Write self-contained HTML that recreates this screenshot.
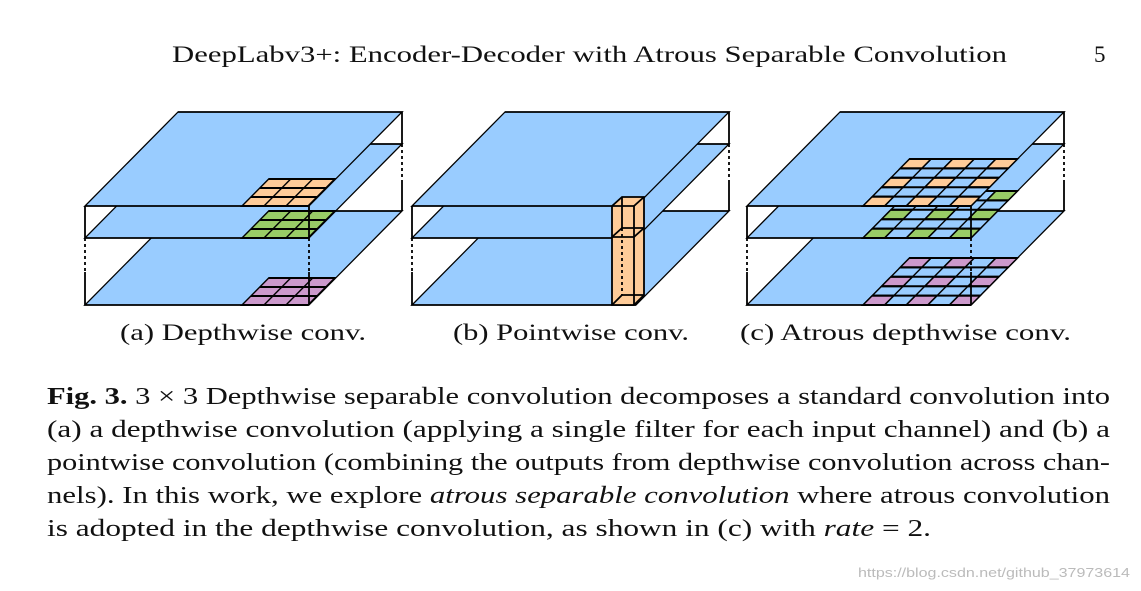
<!DOCTYPE html>
<html><head><meta charset="utf-8"><style>
html,body{margin:0;padding:0;background:#fff;}
svg{display:block;}
text{font-family:"Liberation Serif",serif;fill:#111;}
</style></head><body>
<svg width="1141" height="591" viewBox="0 0 1141 591" xmlns="http://www.w3.org/2000/svg">
<defs>
  <g id="plane"><g transform="translate(93,0) skewX(-44.7)"><rect x="0" y="0" width="224" height="94" fill="#99ccff" stroke="#000" stroke-width="1.8"/></g></g>
  <g id="g3" stroke="#000" stroke-width="2">
    <g transform="translate(93,0) skewX(-44.7)">
      <rect x="157" y="67" width="66" height="27"/>
      <line x1="179" y1="67" x2="179" y2="94"/><line x1="201" y1="67" x2="201" y2="94"/>
      <line x1="157" y1="76" x2="223" y2="76"/><line x1="157" y1="85" x2="223" y2="85"/>
    </g>
  </g>
  <g id="g5" stroke="#000" stroke-width="2">
    <g transform="translate(93,0) skewX(-44.7)">
      <rect x="116" y="47" width="108" height="47" fill="#99ccff"/>
      <rect x="116" y="47" width="21.6" height="9.4" fill="var(--c)"/>
      <rect x="159.2" y="47" width="21.6" height="9.4" fill="var(--c)"/>
      <rect x="202.4" y="47" width="21.6" height="9.4" fill="var(--c)"/>
      <rect x="116" y="65.8" width="21.6" height="9.4" fill="var(--c)"/>
      <rect x="159.2" y="65.8" width="21.6" height="9.4" fill="var(--c)"/>
      <rect x="202.4" y="65.8" width="21.6" height="9.4" fill="var(--c)"/>
      <rect x="116" y="84.6" width="21.6" height="9.4" fill="var(--c)"/>
      <rect x="159.2" y="84.6" width="21.6" height="9.4" fill="var(--c)"/>
      <rect x="202.4" y="84.6" width="21.6" height="9.4" fill="var(--c)"/>
      <line x1="137.6" y1="47" x2="137.6" y2="94"/><line x1="159.2" y1="47" x2="159.2" y2="94"/>
      <line x1="180.8" y1="47" x2="180.8" y2="94"/><line x1="202.4" y1="47" x2="202.4" y2="94"/>
      <line x1="116" y1="56.4" x2="224" y2="56.4"/><line x1="116" y1="65.8" x2="224" y2="65.8"/>
      <line x1="116" y1="75.2" x2="224" y2="75.2"/><line x1="116" y1="84.6" x2="224" y2="84.6"/>
    </g>
  </g>
  <g id="box" stroke="#000" stroke-width="1.8" fill="none">
    <line x1="0" y1="94" x2="0" y2="126"/><line x1="0" y1="126" x2="0" y2="160" stroke-dasharray="3,3"/><line x1="0" y1="160" x2="0" y2="193"/>
    <line x1="317" y1="0" x2="317" y2="32"/><line x1="317" y1="32" x2="317" y2="68" stroke-dasharray="3,3"/><line x1="317" y1="68" x2="317" y2="99"/>
  </g>
  <g id="fr" stroke="#000" stroke-width="1.8" fill="none">
    <line x1="224" y1="94" x2="224" y2="126"/><line x1="224" y1="126" x2="224" y2="160" stroke-dasharray="3,3"/><line x1="224" y1="160" x2="224" y2="193"/>
  </g>
</defs>

<text x="172" y="62" font-size="23" textLength="835" lengthAdjust="spacingAndGlyphs">DeepLabv3+: Encoder-Decoder with Atrous Separable Convolution</text>
<text x="1094" y="62" font-size="23">5</text>

<g transform="translate(85,112)">
  <use href="#box"/>
  <g transform="translate(0,99)"><use href="#plane"/><use href="#g3" fill="#cc99cc"/></g>
  <g transform="translate(0,32)"><use href="#plane"/><use href="#g3" fill="#99cc66"/></g>
  <use href="#fr"/>
  <use href="#plane"/><use href="#g3" fill="#ffcc99"/>
</g>

<g transform="translate(412,112)">
  <use href="#box"/>
  <g transform="translate(0,99)"><use href="#plane"/></g>
  <g transform="translate(0,32)"><use href="#plane"/></g>
  <use href="#plane"/>
  <g stroke="#000" stroke-width="1.8">
    <polygon points="200,94 210,85 232,85 232,183 222,193 200,193" fill="#ffcc99"/>
    <line x1="200" y1="94" x2="222" y2="94"/><line x1="222" y1="94" x2="232" y2="85"/><line x1="222" y1="94" x2="222" y2="193"/>
    <line x1="210" y1="85" x2="210" y2="116"/>
    <line x1="200" y1="125" x2="222" y2="125"/><line x1="222" y1="125" x2="232" y2="116"/><line x1="200" y1="125" x2="210" y2="116"/><line x1="210" y1="116" x2="232" y2="116"/>
    <line x1="210" y1="116" x2="210" y2="183" stroke-dasharray="3,3"/>
    <line x1="200" y1="193" x2="210" y2="183"/><line x1="210" y1="183" x2="232" y2="183"/>
  </g>
</g>

<g transform="translate(747,112)">
  <use href="#box"/>
  <g transform="translate(0,99)"><use href="#plane"/><use href="#g5" style="--c:#cc99cc"/></g>
  <g transform="translate(0,32)"><use href="#plane"/><use href="#g5" style="--c:#99cc66"/></g>
  <use href="#fr"/>
  <use href="#plane"/><use href="#g5" style="--c:#ffcc99"/>
</g>

<text x="120" y="340" font-size="23" textLength="246" lengthAdjust="spacingAndGlyphs">(a) Depthwise conv.</text>
<text x="453" y="340" font-size="23" textLength="236" lengthAdjust="spacingAndGlyphs">(b) Pointwise conv.</text>
<text x="740" y="340" font-size="23" textLength="331" lengthAdjust="spacingAndGlyphs">(c) Atrous depthwise conv.</text>

<g font-size="24">
<text x="47" y="404" textLength="1063" lengthAdjust="spacingAndGlyphs"><tspan font-weight="bold">Fig. 3.</tspan> 3 × 3 Depthwise separable convolution decomposes a standard convolution into</text>
<text x="47" y="437" textLength="1063" lengthAdjust="spacingAndGlyphs">(a) a depthwise convolution (applying a single filter for each input channel) and (b) a</text>
<text x="47" y="470" textLength="1063" lengthAdjust="spacingAndGlyphs">pointwise convolution (combining the outputs from depthwise convolution across chan-</text>
<text x="47" y="503" textLength="1063" lengthAdjust="spacingAndGlyphs">nels). In this work, we explore <tspan font-style="italic">atrous separable convolution</tspan> where atrous convolution</text>
<text x="47" y="536" textLength="884" lengthAdjust="spacingAndGlyphs">is adopted in the depthwise convolution, as shown in (c) with <tspan font-style="italic">rate</tspan> = 2.</text>
</g>
<text x="858" y="577" font-size="13" style="fill:#bbb;font-family:'Liberation Sans',sans-serif" textLength="272" lengthAdjust="spacingAndGlyphs">https://blog.csdn.net/github_37973614</text>
</svg>
</body></html>
